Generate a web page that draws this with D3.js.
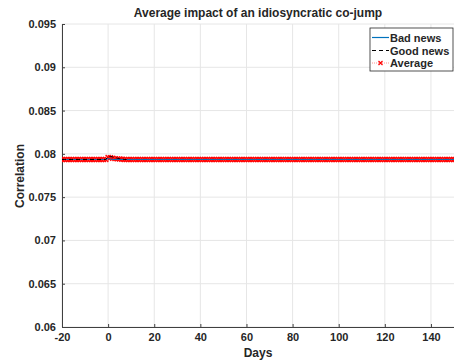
<!DOCTYPE html>
<html><head><meta charset="utf-8">
<script src="https://cdn.jsdelivr.net/npm/d3@7"></script>
<style>body{margin:0;background:#fff}text{font-family:"Liberation Sans",Arial,sans-serif;font-weight:bold;fill:#262626}</style>
</head><body><svg id="c" width="454" height="363"></svg>
<script>
const xTicks = [-20,0,20,40,60,80,100,120,140];
const xTickLabels = ["-20","0","20","40","60","80","100","120","140"];
const yTicks = [0.06,0.065,0.07,0.075,0.08,0.085,0.09,0.095];
const yTickLabels = ["0.06","0.065","0.07","0.075","0.08","0.085","0.09","0.095"];
const days = d3.range(-20, 151);
const badNews = days.map(d => d === 0 ? 0.07945 : d === 1 ? 0.07940 : 0.07935);
const goodNews = days.map(d => d===0?0.07970: d===1?0.07970: d===2?0.07965: d===3?0.07955: d===4?0.07950: d===5?0.07945: d===6?0.07940: 0.07935);
const average = days.map((d,i) => (badNews[i]+goodNews[i])/2);
const legendLabels = ["Bad news","Good news","Average"];

const svg = d3.select("#c");
const L=62, R=454, T=24, B=327;
const x = d3.scaleLinear().domain([-20,150]).range([L,R]);
const y = d3.scaleLinear().domain([0.06,0.095]).range([B,T]);

// grid
svg.append("g").selectAll("line").data(xTicks).join("line")
  .attr("x1",d=>x(d)).attr("x2",d=>x(d)).attr("y1",T).attr("y2",B)
  .attr("stroke","#e6e6e6").attr("stroke-width",1);
svg.append("g").selectAll("line").data(yTicks).join("line")
  .attr("x1",L).attr("x2",R).attr("y1",d=>y(d)).attr("y2",d=>y(d))
  .attr("stroke","#e6e6e6").attr("stroke-width",1);

// axes
const xa = svg.append("g").attr("transform",`translate(0,${B})`)
  .call(d3.axisBottom(x).tickValues(xTicks).tickFormat((d,i)=>xTickLabels[i]).tickSizeInner(-3).tickSizeOuter(0).tickPadding(6));
const ya = svg.append("g").attr("transform",`translate(${L},0)`)
  .call(d3.axisLeft(y).tickValues(yTicks).tickFormat((d,i)=>yTickLabels[i]).tickSizeInner(-3).tickSizeOuter(0).tickPadding(6));
[xa,ya].forEach(a=>{
  a.select(".domain").attr("stroke","#404040").attr("stroke-width",1);
  a.selectAll(".tick line").attr("stroke","#404040");
  a.selectAll("text").attr("font-size",11).attr("fill","#262626")
   .attr("font-family","Liberation Sans, Arial, sans-serif").attr("font-weight","bold");
});

const line = d3.line().x((d,i)=>x(days[i])).y(d=>y(d));
svg.append("clipPath").attr("id","cp").append("rect").attr("x",L).attr("y",T-3).attr("width",R-L+3).attr("height",B-T+3);
const plot = svg.append("g").attr("clip-path","url(#cp)");

// average markers & dotted line
plot.append("path").datum(average).attr("d",line).attr("fill","none")
  .attr("stroke","#ff0000").attr("stroke-width",1).attr("stroke-dasharray","1,2");
const ms=2.5;
plot.append("g").selectAll("path").data(average).join("path")
  .attr("d",(d,i)=>{const cx=x(days[i]),cy=y(d);return `M${cx-ms},${cy-ms}L${cx+ms},${cy+ms}M${cx-ms},${cy+ms}L${cx+ms},${cy-ms}`;})
  .attr("stroke","#ff0000").attr("stroke-width",1.3);
plot.append("path").datum(badNews).attr("d",line).attr("fill","none")
  .attr("stroke","#0072bd").attr("stroke-width",1);
plot.append("path").datum(goodNews.map((v,i)=>days[i]<=8?v:null)).attr("d",line.defined(d=>d!==null)).attr("fill","none")
  .attr("stroke","#000").attr("stroke-width",1).attr("stroke-dasharray","4,3");

// title and labels
svg.append("text").attr("x",258).attr("y",17).attr("text-anchor","middle").attr("font-size",12).text("Average impact of an idiosyncratic co-jump");
svg.append("text").attr("x",258).attr("y",357).attr("text-anchor","middle").attr("font-size",12).text("Days");
svg.append("text").attr("transform","translate(24,176) rotate(-90)").attr("text-anchor","middle").attr("font-size",12).text("Correlation");

// legend
const lg = svg.append("g");
lg.append("rect").attr("x",370).attr("y",28).attr("width",83).attr("height",43).attr("fill","#fff").attr("stroke","#262626").attr("stroke-width",0.8);
const ly=[37.5,50.5,63];
lg.append("line").attr("x1",372).attr("x2",389).attr("y1",ly[0]).attr("y2",ly[0]).attr("stroke","#0072bd").attr("stroke-width",1.2);
lg.append("line").attr("x1",372).attr("x2",389).attr("y1",ly[1]).attr("y2",ly[1]).attr("stroke","#000").attr("stroke-width",1).attr("stroke-dasharray","4,3");
lg.append("line").attr("x1",372).attr("x2",389).attr("y1",ly[2]).attr("y2",ly[2]).attr("stroke","#ff9090").attr("stroke-width",1).attr("stroke-dasharray","1,1");
lg.append("path").attr("d",`M${380.5-2},${ly[2]-2}L${380.5+2},${ly[2]+2}M${380.5-2},${ly[2]+2}L${380.5+2},${ly[2]-2}`).attr("stroke","#ff0000").attr("stroke-width",1.2);
legendLabels.forEach((t,i)=>lg.append("text").attr("x",390).attr("y",ly[i]+4).attr("font-size",11).text(t));
</script></body></html>
